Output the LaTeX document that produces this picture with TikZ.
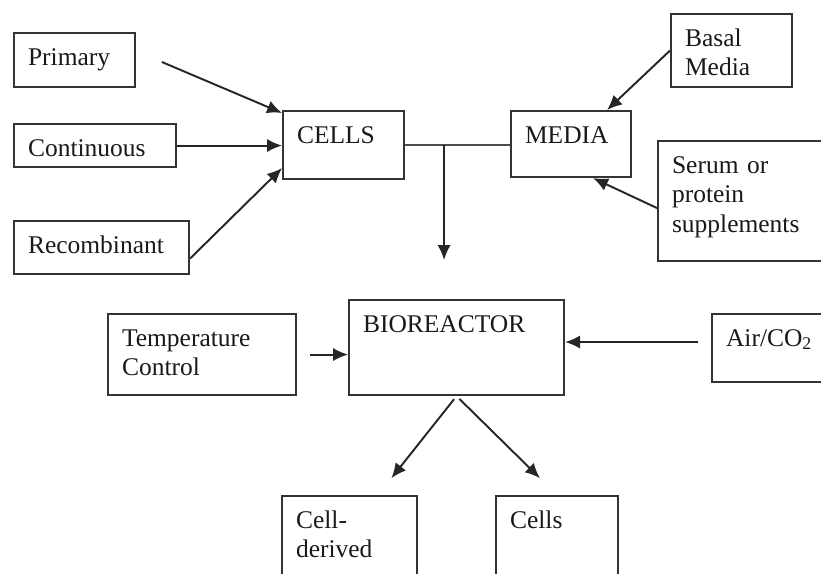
\documentclass[tikz,border=0pt]{standalone}
\usepackage{fontspec}
\setmainfont{Liberation Serif}
\usetikzlibrary{arrows.meta}

\begin{document}
\begin{tikzpicture}[x=0.02cm, y=-0.02cm,
  blk/.style 2 args={draw=black!80, line width=1.2pt, anchor=north west,
    inner xsep=0.28cm, inner ysep=0.2cm, text height=0.44cm,
    text width=#1, text depth=#2, align=left,
    font=\fontsize{14.5}{17}\selectfont, text=black!90},
  arr/.style={draw=black!85, line width=1.1pt, -{Latex[length=8.5pt,width=7.5pt]}},
  link/.style={draw=black!70, line width=0.8pt}]

% FRAME
\useasboundingbox (0,0) rectangle (821,574);
\clip (0,0) rectangle (821,574);

% CELL SOURCES
\node[blk={1.86cm}{0.24cm}] (prim) at (13,32) {Primary};
\node[blk={2.68cm}{0.02cm}] (cont) at (13,123) {Continuous};
\node[blk={2.94cm}{0.22cm}] (recomb) at (13,220) {Recombinant};
\node[blk={1.86cm}{0.52cm}] (cells) at (282,110) {CELLS};

% MEDIA
\node[blk={1.84cm}{0.48cm}] (media) at (510,110) {MEDIA};
\node[blk={1.86cm}{0.62cm}] (basal) at (670,13) {Basal\\ Media};
\node[blk={3.04cm}{1.56cm}] (serum) at (657,140) {Serum or\\ protein\\ supplements};

% BIOREACTOR
\node[blk={3.2cm}{0.78cm}] (temp) at (107,313) {Temperature\\ Control};
\node[blk={3.74cm}{1.06cm}] (bio) at (348,299) {BIOREACTOR};
\node[blk={2.04cm}{0.52cm}] (air) at (711,313) {Air/CO\textsubscript{2}};

% PRODUCTS
\node[blk={2.14cm}{1.16cm}] (cder) at (281,495) {Cell-\\ derived};
\node[blk={1.88cm}{1.16cm}] (cellsout) at (495,495) {Cells};

% EDGES
\draw[arr, shorten <=0.56cm] ([yshift=0.18cm]prim.east) -- ([yshift=-0.06cm]cells.north west);
\draw[arr] (cont.east) -- (cont.east -| cells.west);
\draw[arr] ([yshift=-0.22cm]recomb.east) -- ([yshift=0.24cm]cells.south west);
\draw[link] (cells.east) -- (cells.east -| media.west);
\coordinate (jn) at ([xshift=0.78cm]cells.east);
\draw[arr, shorten >=0.78cm] (jn) -- (jn |- bio.north);
\draw[arr] (basal.west) -- ([xshift=-0.5cm]media.north east);
\draw[arr] ([yshift=-0.14cm]serum.west) -- ([xshift=0.44cm]media.south);
\draw[arr, shorten <=0.26cm] (temp.east) -- (temp.east -| bio.west);
\draw[arr, shorten <=0.26cm] ([yshift=0.12cm]air.west) -- ([yshift=0.12cm]air.west -| bio.east);
\draw[arr, shorten <=0.08cm, shorten >=0.43cm] (bio.south) -- ([xshift=0.57cm]cder.north);
\draw[arr, shorten <=0.08cm, shorten >=0.48cm] (bio.south) -- (cellsout.north);

\end{tikzpicture}
\end{document}
